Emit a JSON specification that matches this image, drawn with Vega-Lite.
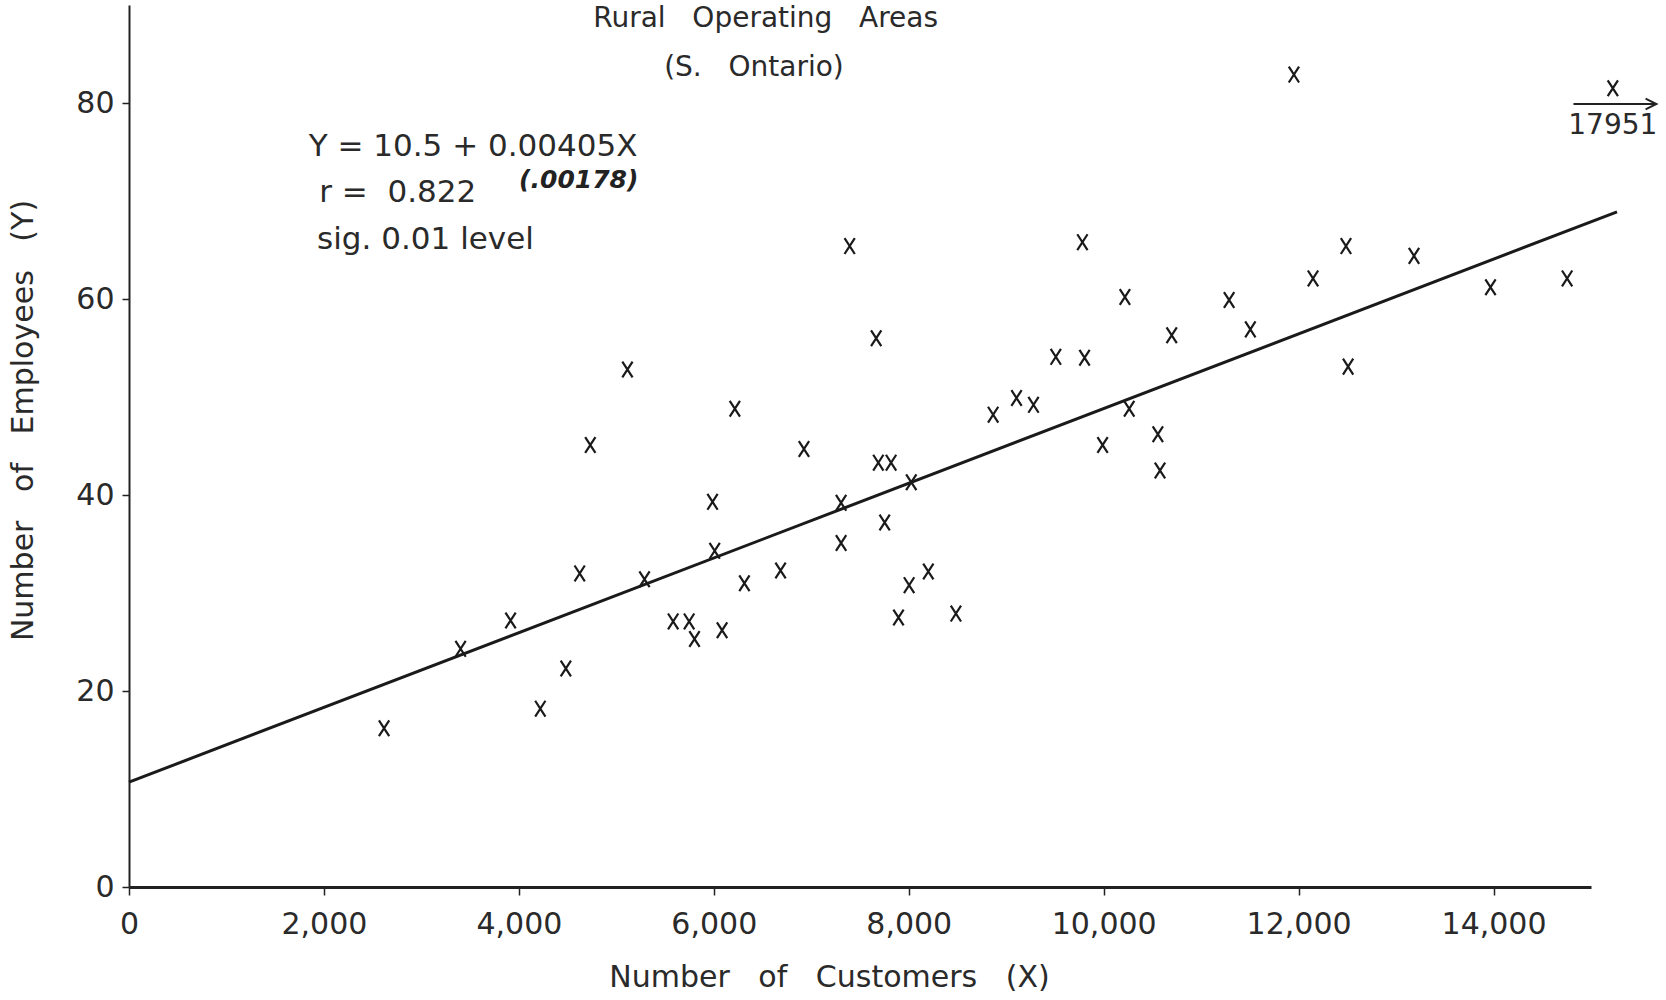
{
  "$schema": "https://vega.github.io/schema/vega-lite/v6.json",
  "width": 1462,
  "height": 882,
  "autosize": {"type": "none"},
  "padding": {"left": 129, "top": 5, "right": 75, "bottom": 113},
  "background": "white",
  "config": {"view": {"stroke": null}, "font": "DejaVu Sans"},
  "datasets": {
    "points": [
      {"customers": 2617, "employees": 16.2},
      {"customers": 3402, "employees": 24.3},
      {"customers": 3915, "employees": 27.2},
      {"customers": 4220, "employees": 18.2},
      {"customers": 4482, "employees": 22.3},
      {"customers": 4624, "employees": 32.0},
      {"customers": 4733, "employees": 45.1},
      {"customers": 5114, "employees": 52.8},
      {"customers": 5289, "employees": 31.4},
      {"customers": 5583, "employees": 27.1},
      {"customers": 5747, "employees": 27.1},
      {"customers": 5802, "employees": 25.3},
      {"customers": 5987, "employees": 39.3},
      {"customers": 6009, "employees": 34.3},
      {"customers": 6085, "employees": 26.2},
      {"customers": 6216, "employees": 48.8},
      {"customers": 6314, "employees": 31.0},
      {"customers": 6685, "employees": 32.3},
      {"customers": 6925, "employees": 44.7},
      {"customers": 7306, "employees": 39.2},
      {"customers": 7306, "employees": 35.1},
      {"customers": 7394, "employees": 65.4},
      {"customers": 7666, "employees": 56.0},
      {"customers": 7688, "employees": 43.3},
      {"customers": 7819, "employees": 43.3},
      {"customers": 7753, "employees": 37.2},
      {"customers": 7895, "employees": 27.5},
      {"customers": 8004, "employees": 30.8},
      {"customers": 8026, "employees": 41.3},
      {"customers": 8201, "employees": 32.2},
      {"customers": 8484, "employees": 27.9},
      {"customers": 8866, "employees": 48.2},
      {"customers": 9106, "employees": 49.9},
      {"customers": 9280, "employees": 49.2},
      {"customers": 9509, "employees": 54.1},
      {"customers": 9782, "employees": 65.8},
      {"customers": 9804, "employees": 54.0},
      {"customers": 9989, "employees": 45.1},
      {"customers": 10218, "employees": 60.2},
      {"customers": 10262, "employees": 48.8},
      {"customers": 10556, "employees": 46.2},
      {"customers": 10578, "employees": 42.5},
      {"customers": 10698, "employees": 56.3},
      {"customers": 11287, "employees": 59.9},
      {"customers": 11505, "employees": 56.9},
      {"customers": 11952, "employees": 82.9},
      {"customers": 12148, "employees": 62.1},
      {"customers": 12486, "employees": 65.4},
      {"customers": 12508, "employees": 53.1},
      {"customers": 13184, "employees": 64.4},
      {"customers": 13969, "employees": 61.2},
      {"customers": 14755, "employees": 62.1}
    ],
    "outlier": [
      {"plot_x": 15224, "employees": 81.5, "label": "17951", "label_y": 77.7}
    ],
    "fit": [
      {"customers": 0, "employees": 10.7},
      {"customers": 15267, "employees": 68.9}
    ],
    "arrow": [
      {"customers": 14820, "employees": 79.9, "part": "shaft", "ord": 1},
      {"customers": 15671, "employees": 79.9, "part": "shaft", "ord": 2},
      {"customers": 15560, "employees": 80.45, "part": "head", "ord": 1},
      {"customers": 15671, "employees": 79.9, "part": "head", "ord": 2},
      {"customers": 15560, "employees": 79.35, "part": "head", "ord": 3}
    ],
    "equation": [
      {"customers": 1843, "employees": 75.55, "text": "Y = 10.5 + 0.00405X"},
      {"customers": 1952, "employees": 70.8, "text": "r =\u00a0\u00a00.822"},
      {"customers": 1930, "employees": 66.0, "text": "sig. 0.01 level"}
    ],
    "stderr": [
      {"customers": 4002, "employees": 72.1, "text": "(.00178)"}
    ],
    "titles": [
      {"customers": 6532, "employees": 88.6, "text": "Rural\u00a0\u00a0\u00a0Operating\u00a0\u00a0\u00a0Areas"},
      {"customers": 6412, "employees": 83.6, "text": "(S.\u00a0\u00a0\u00a0Ontario)"}
    ]
  },
  "layer": [
    {
      "data": {"name": "fit"},
      "mark": {"type": "line", "color": "#1a1a1a", "strokeWidth": 3},
      "encoding": {
        "x": {
          "field": "customers",
          "type": "quantitative",
          "scale": {"domain": [0, 15000], "nice": false, "zero": true},
          "axis": {
            "values": [0, 2000, 4000, 6000, 8000, 10000, 12000, 14000],
            "format": ",.0f",
            "grid": false,
            "labelFlush": false,
            "labelFont": "DejaVu Sans",
            "labelFontSize": 30,
            "labelFontWeight": "normal",
            "labelColor": "#2a2a2a",
            "labelPadding": 14,
            "domainWidth": 3,
            "domainColor": "#222",
            "tickColor": "#222",
            "tickSize": 8,
            "tickWidth": 1.5,
            "title": "Number\u00a0\u00a0\u00a0of\u00a0\u00a0\u00a0Customers\u00a0\u00a0\u00a0(X)",
            "titleFont": "DejaVu Sans",
            "titleFontSize": 30,
            "titleFontWeight": "normal",
            "titleColor": "#2a2a2a",
            "titleX": 700,
            "titleY": 90,
            "titleAlign": "center",
            "titleBaseline": "middle"
          }
        },
        "y": {
          "field": "employees",
          "type": "quantitative",
          "scale": {"domain": [0, 90], "nice": false},
          "axis": {
            "values": [0, 20, 40, 60, 80],
            "grid": false,
            "labelFlush": false,
            "labelFont": "DejaVu Sans",
            "labelFontSize": 30,
            "labelFontWeight": "normal",
            "labelColor": "#2a2a2a",
            "labelPadding": 8,
            "domainWidth": 2,
            "domainColor": "#222",
            "tickColor": "#222",
            "tickSize": 7,
            "tickWidth": 1.5,
            "title": "Number\u00a0\u00a0\u00a0of\u00a0\u00a0\u00a0Employees\u00a0\u00a0\u00a0(Y)",
            "titleFont": "DejaVu Sans",
            "titleFontSize": 30,
            "titleFontWeight": "normal",
            "titleColor": "#2a2a2a",
            "titleAngle": -90,
            "titleX": -106,
            "titleY": 415,
            "titleAlign": "center",
            "titleBaseline": "middle"
          }
        }
      }
    },
    {
      "data": {"name": "points"},
      "mark": {"type": "point", "shape": "M-0.65,-1L0.65,1M0.65,-1L-0.65,1", "filled": false, "strokeWidth": 2.2, "color": "#1a1a1a", "size": 250, "opacity": 1},
      "encoding": {
        "x": {"field": "customers", "type": "quantitative"},
        "y": {"field": "employees", "type": "quantitative"}
      }
    },
    {
      "data": {"name": "outlier"},
      "mark": {"type": "point", "shape": "M-0.65,-1L0.65,1M0.65,-1L-0.65,1", "filled": false, "strokeWidth": 2.2, "color": "#1a1a1a", "size": 250, "opacity": 1},
      "encoding": {
        "x": {"field": "plot_x", "type": "quantitative"},
        "y": {"field": "employees", "type": "quantitative"}
      }
    },
    {
      "data": {"name": "outlier"},
      "mark": {"type": "text", "fontSize": 28, "fontWeight": "normal", "color": "#2a2a2a", "align": "center", "baseline": "middle"},
      "encoding": {
        "x": {"field": "plot_x", "type": "quantitative"},
        "y": {"field": "label_y", "type": "quantitative"},
        "text": {"field": "label"}
      }
    },
    {
      "data": {"name": "arrow"},
      "mark": {"type": "line", "color": "#222", "strokeWidth": 2},
      "encoding": {
        "x": {"field": "customers", "type": "quantitative"},
        "y": {"field": "employees", "type": "quantitative"},
        "detail": {"field": "part"},
        "order": {"field": "ord"}
      }
    },
    {
      "data": {"name": "equation"},
      "mark": {"type": "text", "fontSize": 31, "fontWeight": "normal", "color": "#2a2a2a", "align": "left", "baseline": "middle"},
      "encoding": {
        "x": {"field": "customers", "type": "quantitative"},
        "y": {"field": "employees", "type": "quantitative"},
        "text": {"field": "text"}
      }
    },
    {
      "data": {"name": "stderr"},
      "mark": {"type": "text", "fontSize": 25, "fontWeight": "bold", "fontStyle": "italic", "color": "#222", "align": "left", "baseline": "middle"},
      "encoding": {
        "x": {"field": "customers", "type": "quantitative"},
        "y": {"field": "employees", "type": "quantitative"},
        "text": {"field": "text"}
      }
    },
    {
      "data": {"name": "titles"},
      "mark": {"type": "text", "fontSize": 28, "fontWeight": "normal", "color": "#2a2a2a", "align": "center", "baseline": "middle"},
      "encoding": {
        "x": {"field": "customers", "type": "quantitative"},
        "y": {"field": "employees", "type": "quantitative"},
        "text": {"field": "text"}
      }
    }
  ]
}
